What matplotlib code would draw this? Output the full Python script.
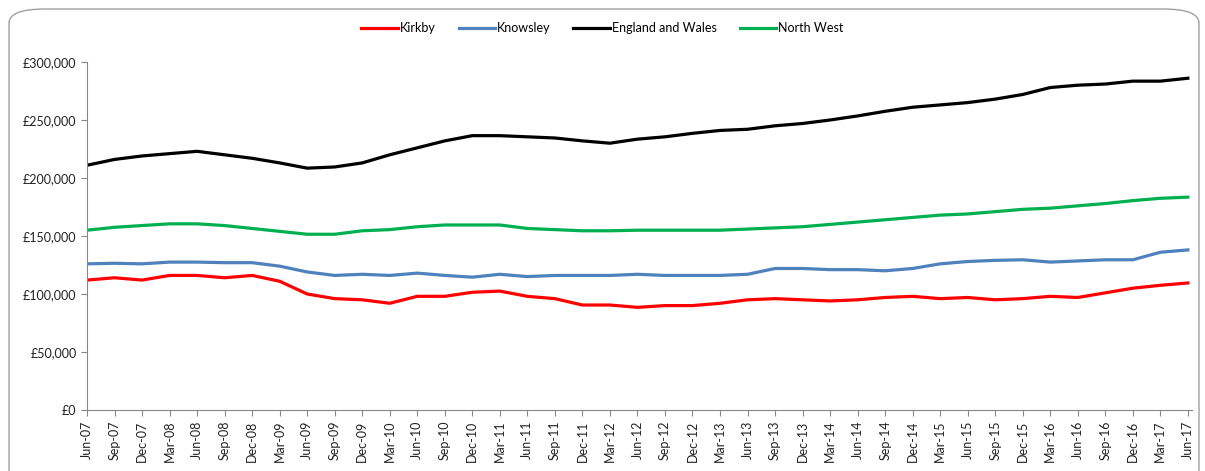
import numpy as np
import matplotlib.pyplot as plt
from matplotlib.patches import FancyBboxPatch
from matplotlib.ticker import FuncFormatter

plt.rcParams['font.family'] = ['Lato', 'DejaVu Sans']

# quarterly labels Jun-07 .. Jun-17
labels = []
for yr in range(7, 18):
    for m in ["Mar", "Jun", "Sep", "Dec"]:
        labels.append("%s-%02d" % (m, yr))
labels = labels[1:42]

kirkby = [112, 114, 112, 116, 116, 114, 116, 111, 100, 96, 95, 92, 98, 98, 101.5,
          102.5, 98, 96, 90.5, 90.5, 88.5, 90, 90, 92, 95, 96, 95, 94, 95, 97, 98,
          96, 97, 95, 96, 98, 97, 101, 105, 107.5, 109.5]
knowsley = [126, 126.5, 126, 127.5, 127.5, 127, 127, 124, 119, 116, 117, 116, 118,
            116, 114.5, 117, 115, 116, 116, 116, 117, 116, 116, 116, 117, 122, 122,
            121, 121, 120, 122, 126, 128, 129, 129.5, 127.5, 128.5, 129.5, 129.5,
            136, 138]
eng_wales = [211, 216, 219, 221, 223, 220, 217, 213, 208.5, 209.5, 213, 220, 226,
             232, 236.5, 236.5, 235.5, 234.5, 232, 230, 233.5, 235.5, 238.5, 241,
             242, 245, 247, 250, 253.5, 257.5, 261, 263, 265, 268, 272, 278, 280,
             281, 283.5, 283.5, 286]
north_west = [155, 157.5, 159, 160.5, 160.5, 159, 156.5, 154, 151.5, 151.5, 154.5,
              155.5, 158, 159.5, 159.5, 159.5, 156.5, 155.5, 154.5, 154.5, 155, 155,
              155, 155, 156, 157, 158, 160, 162, 164, 166, 168, 169, 171, 173, 174,
              176, 178, 180.5, 182.5, 183.5]

series = [("Kirkby", kirkby, "#ff0000"),
          ("Knowsley", knowsley, "#4f81bd"),
          ("England and Wales", eng_wales, "#000000"),
          ("North West", north_west, "#00b050")]

fig = plt.figure(figsize=(12.05, 4.71), dpi=100)
ax = fig.add_axes([87/1205, 1 - 410/471, (1192 - 87)/1205, (410 - 62)/471])

# rounded chart border
border = FancyBboxPatch((9/1205, -0.05), 1190/1205, 0.05 + 1 - 9/471,
                        boxstyle="round,pad=0,rounding_size=0.03",
                        transform=fig.transFigure, fill=False,
                        edgecolor="#a0a0a0", linewidth=1.0, clip_on=False)
fig.patches.append(border)

x = np.arange(len(labels))
for name, vals, col in series:
    ax.plot(x, np.array(vals) * 1000, color=col, lw=2.3, label=name,
            solid_joinstyle="round")

ax.set_xlim(0, len(labels) - 1 + 0.15)
ax.set_ylim(0, 300000)
ax.set_yticks(range(0, 300001, 50000))
ax.yaxis.set_major_formatter(FuncFormatter(lambda v, p: "£{:,.0f}".format(v)))
ax.set_xticks(x)
ax.set_xticklabels(labels, rotation=90)

for s in ["top", "right"]:
    ax.spines[s].set_visible(False)
for s in ["left", "bottom"]:
    ax.spines[s].set_color("#868686")
ax.tick_params(axis="both", colors="#868686", labelcolor="#222222",
               labelsize=9, length=4, direction="out")

fig.legend(loc="center", bbox_to_anchor=(0.5, 1 - 28/471), ncol=4, frameon=False,
           fontsize=9, handlelength=2.9, handletextpad=0.2, columnspacing=1.8)

fig.savefig("out.png", dpi=100)
